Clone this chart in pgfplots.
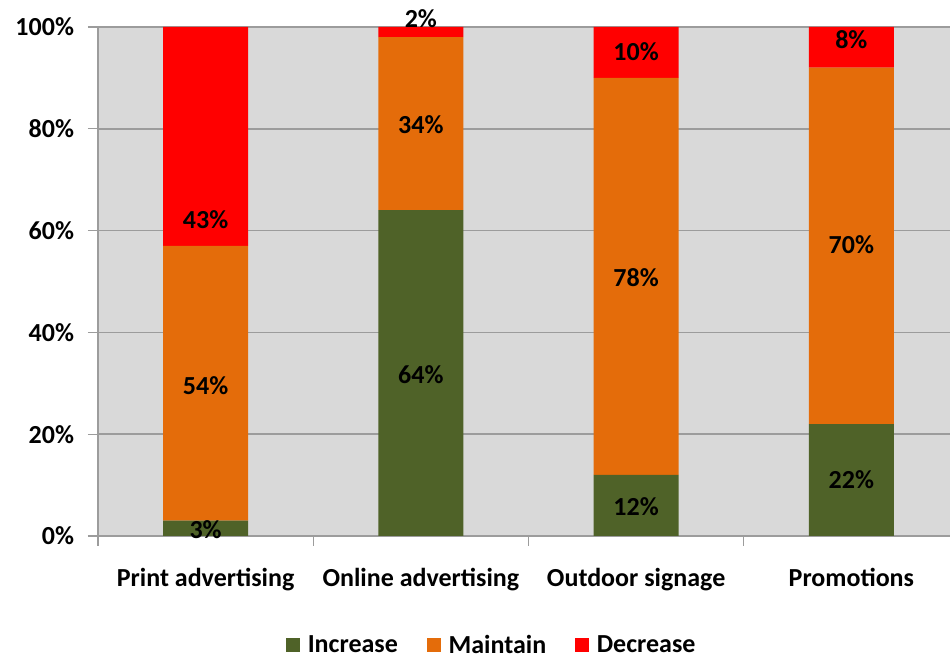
\documentclass[border=0pt]{standalone}
\usepackage{fontspec}
\setmainfont{Carlito}
\usepackage{pgfplots}
\pgfplotsset{compat=1.18}

\definecolor{incgreen}{HTML}{4F6228}
\definecolor{mntorange}{HTML}{E46C0A}
\definecolor{decred}{HTML}{FF0000}
\definecolor{bggray}{HTML}{D9D9D9}
\definecolor{axgray}{HTML}{9C9C9C}

\newcommand{\lbl}{\fontsize{19.5}{21}\selectfont\bfseries}

\pgfplotsset{
  sqlegend/.style={legend image code/.code={\fill[##1] (0pt,-5pt) rectangle (10pt,5pt);}},
}

\begin{document}
\begin{tikzpicture}[font=\lbl]
\path[use as bounding box] (-73.5pt,-92.25pt) rectangle (639pt,402pt);
\begin{axis}[
  at={(0,0)}, anchor=south west,
  width=645.75pt, height=381.75pt, scale only axis,
  xmin=-0.5, xmax=3.5, ymin=0, ymax=100,
  ybar stacked, bar width=63.75pt,
  axis background/.style={fill=bggray},
  axis x line*=bottom, axis y line*=left,
  axis line style={axgray, line width=1.2pt, -},
  ymajorgrids, major grid style={axgray, line width=1.1pt},
  ytick={0,20,...,100},
  yticklabel={\pgfmathprintnumber{\tick}\%},
  yticklabel style={font=\lbl, xshift=-7pt},
  xtick={-0.5,0.5,1.5,2.5,3.5}, xticklabels={},
  extra x ticks={0,1,2,3},
  extra x tick labels={Print advertising, Online advertising, Outdoor signage, Promotions},
  extra x tick style={major tick length=0pt, tick label style={yshift=-21pt}},
  xticklabel style={font=\lbl},
  tick align=outside, major tick length=7.5pt,
  tick style={axgray, line width=1pt},
  /pgf/number format/assume math mode=true,
  legend style={at={(0.458,-0.214)}, anchor=center, draw=none, fill=none,
    legend columns=3, font=\lbl,
    /tikz/every odd column/.append style={column sep=4pt},
    /tikz/every even column/.append style={column sep=20pt}},
]
\addplot[fill=incgreen, draw=none, sqlegend] coordinates {(0,3) (1,64) (2,12) (3,22)};
\addplot[fill=mntorange, draw=none, sqlegend] coordinates {(0,54) (1,34) (2,78) (3,70)};
\addplot[fill=decred, draw=none, sqlegend] coordinates {(0,43) (1,2) (2,10) (3,8)};
\legend{Increase, Maintain, Decrease}
\end{axis}
\begin{axis}[
  at={(0,0)}, anchor=south west,
  width=645.75pt, height=381.75pt, scale only axis,
  xmin=-0.5, xmax=3.5, ymin=0, ymax=100,
  hide axis, clip=false,
  /pgf/number format/assume math mode=true,
]
\addplot[draw=none, mark=none, point meta=explicit,
  nodes near coords={\pgfmathprintnumber{\pgfplotspointmeta}\%},
  every node near coord/.style={anchor=center, font=\lbl, text=black}]
  table[meta=v] {
x y v
0 1.2 3
0 29.5 54
0 62.1 43
1 31.7 64
1 80.8 34
1 101.7 2
2 5.7 12
2 50.7 78
2 95.2 10
3 11 22
3 57.2 70
3 97.5 8
};
\end{axis}
\end{tikzpicture}
\end{document}
